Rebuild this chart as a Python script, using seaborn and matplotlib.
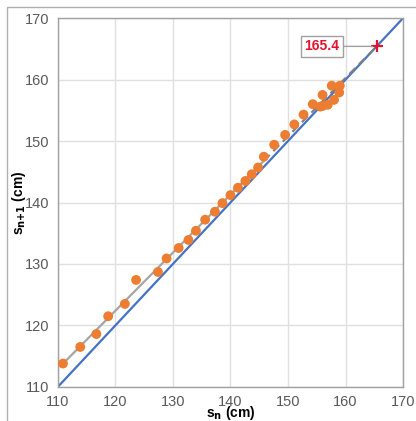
import numpy as np
import pandas as pd
import matplotlib
matplotlib.use('Agg')
import matplotlib.pyplot as plt
import seaborn as sns
from matplotlib.patches import Rectangle

# s_n -> s_n+1 readings (cm)
s_n = [110.9, 113.9, 116.7, 118.75, 121.65, 123.6, 127.4, 128.9, 131.0, 132.7,
       134.0, 135.6, 137.3, 138.6, 140.0, 141.3, 142.6, 143.7, 144.8, 145.8,
       147.6, 149.5, 151.1, 152.7, 154.3, 155.6, 156.0, 156.9, 156.0, 157.6,
       158.0, 159.0, 158.9]
s_n1 = [113.8, 116.5, 118.6, 121.5, 123.5, 127.4, 128.7, 130.9, 132.6, 133.9,
        135.4, 137.2, 138.5, 139.9, 141.2, 142.4, 143.5, 144.6, 145.7, 147.45,
        149.4, 151.0, 152.7, 154.3, 156.0, 155.6, 155.7, 155.9, 157.5, 159.0,
        156.7, 159.0, 157.9]
fixed_point = 165.4
diag = [110, 170]
ticks = [110, 120, 130, 140, 150, 160, 170]

df = pd.DataFrame({'sn': s_n, 'sn1': s_n1})

# trend line on the data, solid part then dashed extension to the fixed point
b, a = np.polyfit(df['sn'], df['sn1'], 1)
split_x = 145.8
solid = pd.DataFrame({'x': [min(s_n), split_x]})
solid['y'] = a + b * solid['x']
dashed = pd.DataFrame({'x': [split_x, fixed_point],
                       'y': [a + b * split_x, fixed_point]})

plt.rcParams['font.family'] = ['Liberation Sans', 'DejaVu Sans']
fig = plt.figure(figsize=(4.16, 4.21), dpi=100)
ax = fig.add_axes([0.139, 0.081, 0.830, 0.876])

sns.lineplot(x=diag, y=diag, ax=ax, color='#4472C4', lw=1.6, zorder=2)
sns.lineplot(data=solid, x='x', y='y', ax=ax, color='#A5A5A5', lw=1.6, zorder=3)
sns.lineplot(data=dashed, x='x', y='y', ax=ax, color='#7F7F7F', lw=1.5,
             linestyle=(0, (4, 2.5)), zorder=3)
sns.scatterplot(data=df, x='sn', y='sn1', ax=ax, color='#ED7D31', s=50,
                edgecolor='none', zorder=4)
ax.plot([fixed_point], [fixed_point], marker='+', color='#E8112D', ms=9, mew=1.6,
        zorder=5)

ax.annotate(f'{fixed_point}', xy=(fixed_point, fixed_point), xytext=(155.9, fixed_point),
            ha='center', va='center', color='#E8112D', fontsize=10, fontweight='bold',
            bbox=dict(boxstyle='square,pad=0.25', fc='white', ec='#A0A0A0', lw=1),
            arrowprops=dict(arrowstyle='-', color='#A0A0A0', lw=1, shrinkA=0, shrinkB=3),
            zorder=6)

ax.set_xlim(110, 170)
ax.set_ylim(110, 170)
ax.set_xticks(ticks)
ax.set_yticks(ticks)
ax.grid(True, color='#E0E0E0', lw=1)
ax.set_axisbelow(True)
ax.tick_params(length=0, labelsize=10.5, colors='#595959', pad=6)
for sp in ax.spines.values():
    sp.set_color('#A0A0A0')
    sp.set_linewidth(1)
ax.set_xlabel('s$_\\mathbf{n}$ (cm)', fontweight='bold', fontsize=10, labelpad=-4)
ax.set_ylabel('s$_\\mathbf{n{+}1}$ (cm)', fontweight='bold', fontsize=10, labelpad=-2)

fig.patches.append(Rectangle((7 / 416, -0.1), 1.1, 1.1 - 7 / 421, transform=fig.transFigure,
                             fill=False, ec='#B0B0B0', lw=1))

fig.savefig('out.png', dpi=100)
